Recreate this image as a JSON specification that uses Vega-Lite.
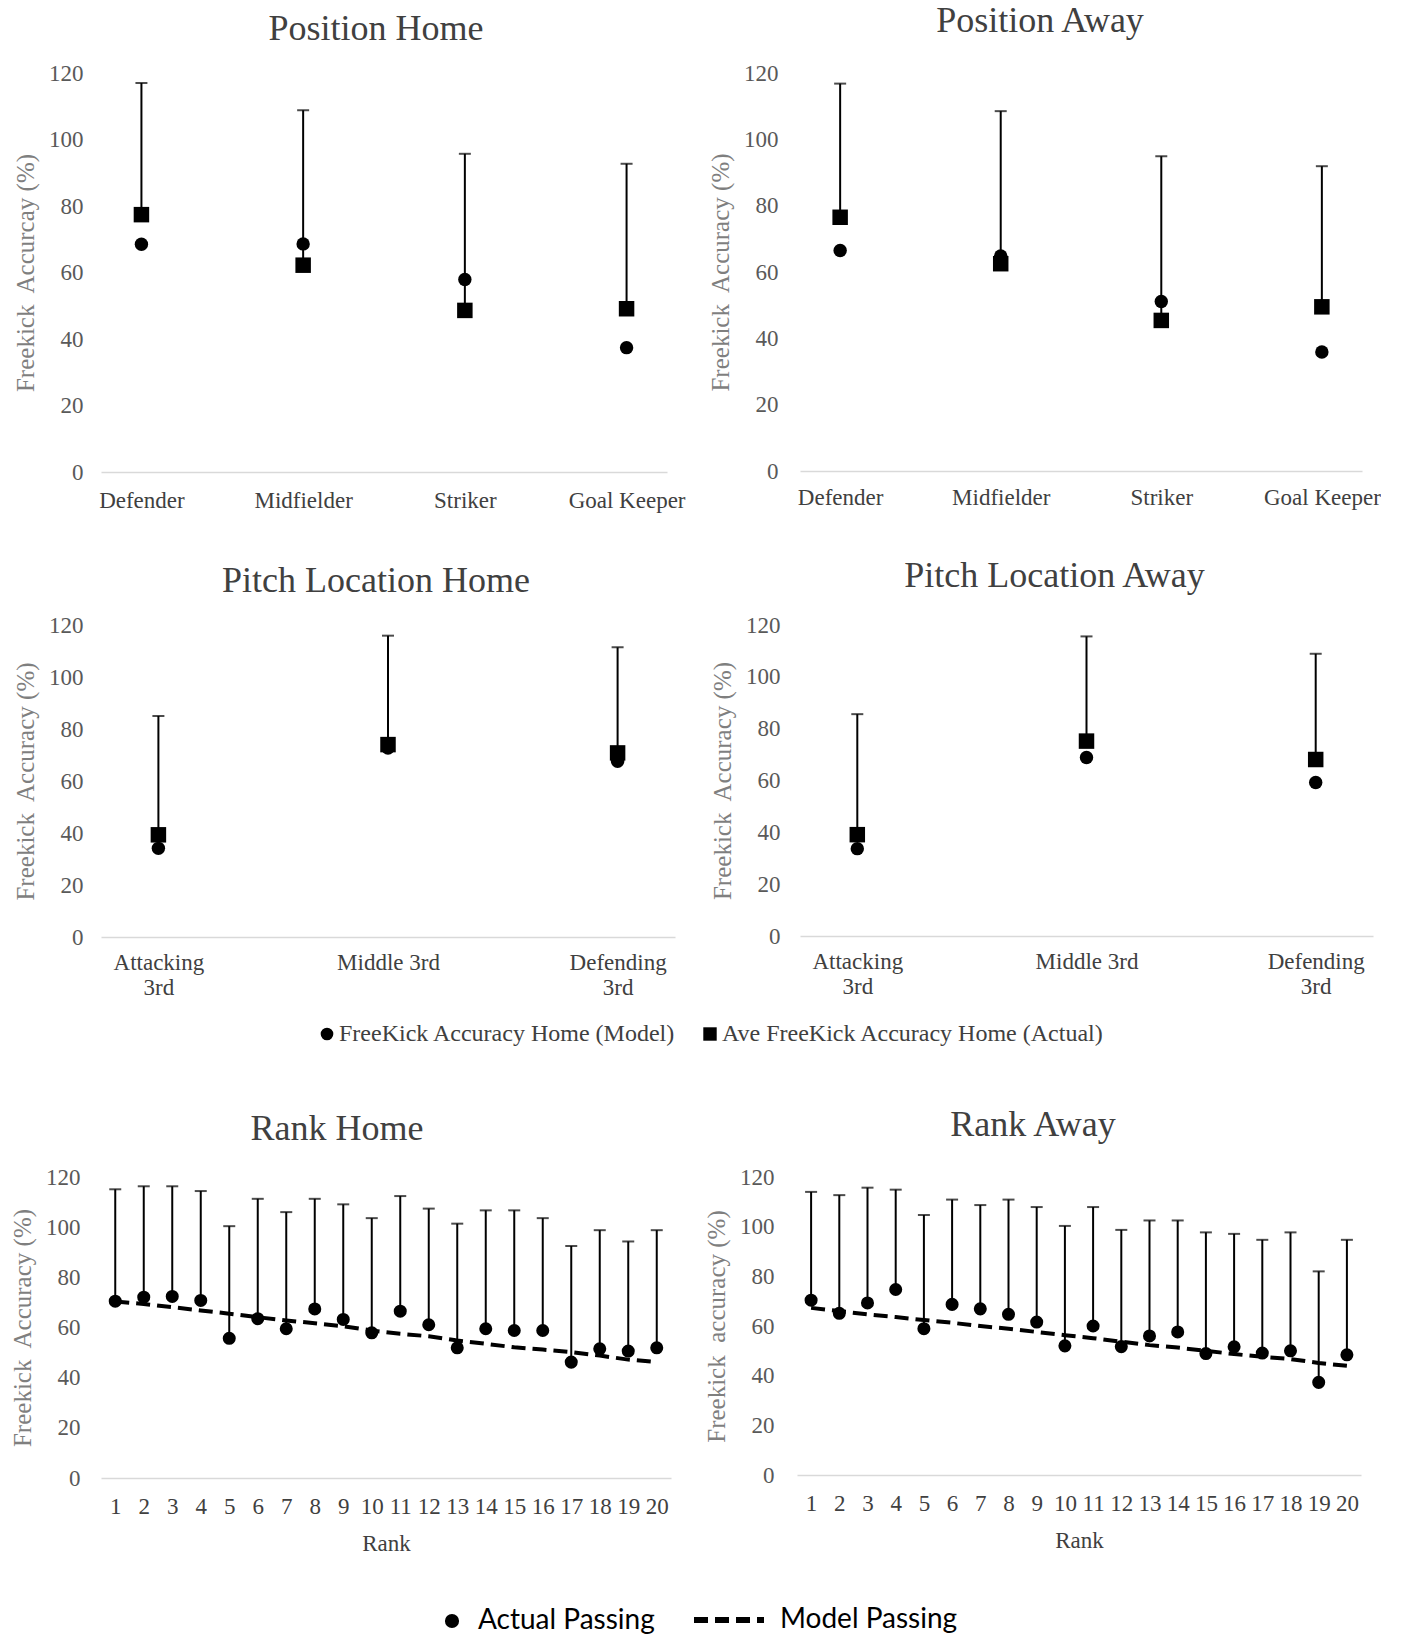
{
  "$schema": "https://vega.github.io/schema/vega-lite/v6.json",
  "background": "white",
  "padding": {"left": 10, "top": 3, "right": 0, "bottom": 0},
  "spacing": 46,
  "resolve": {"scale": {"shape": "independent", "strokeDash": "independent"}, "legend": {"shape": "independent", "strokeDash": "independent"}},
  "config": {
    "view": {"stroke": null},
    "font": "Liberation Serif",
    "axis": {"grid": false, "ticks": false, "tickSize": 0, "labelFont": "Liberation Serif", "titleFont": "Liberation Serif", "titleFontWeight": "normal", "labelFontSize": 23, "titleFontSize": 25},
    "axisY": {"domain": false, "labelColor": "#595959", "titleColor": "#7f7f7f", "titlePadding": 10},
    "axisX": {"domainColor": "#d9d9d9", "domainWidth": 1.5, "labelColor": "#404040", "labelAngle": 0, "titleColor": "#404040", "titleFontSize": 23},
    "title": {"font": "Liberation Serif", "fontSize": 36, "fontWeight": "normal", "color": "#404040", "frame": "group", "anchor": "middle"},
    "legend": {"title": null, "labelFont": "Liberation Serif", "labelFontSize": 24, "labelColor": "#404040", "labelLimit": 0, "symbolFillColor": "black", "symbolStrokeColor": "black", "direction": "horizontal", "orient": "none"}
  },
  "vconcat": [
    {
      "resolve": {"scale": {"shape": "independent", "strokeDash": "independent"}, "legend": {"shape": "independent", "strokeDash": "independent"}},
      "hconcat": [
        {
          "width": 566, "height": 399,
          "title": {"text": "Position Home", "offset": 14, "dx": -8},
          "data": {"values": [
            {"cat": "Defender", "model": 68.5, "actual": 77.4, "top": 117.0},
            {"cat": "Midfielder", "model": 68.6, "actual": 62.2, "top": 108.8},
            {"cat": "Striker", "model": 57.9, "actual": 48.6, "top": 95.7},
            {"cat": "Goal Keeper", "model": 37.4, "actual": 49.1, "top": 92.7}
          ]},
          "encoding": {"x": {"field": "cat", "type": "nominal", "sort": null, "scale": {"type": "point", "padding": 0.25}, "axis": {"title": null, "labelPadding": 17}}},
          "layer": [
            {"mark": {"type": "rule", "color": "black", "strokeWidth": 2}, "encoding": {"y": {"field": "actual", "type": "quantitative", "scale": {"domain": [0, 120]}, "axis": {"title": "Freekick\u00a0 Accurcay (%)", "values": [0, 20, 40, 60, 80, 100, 120], "labelPadding": 18}}, "y2": {"field": "top"}}},
            {"mark": {"type": "tick", "color": "black", "thickness": 2, "size": 12}, "encoding": {"y": {"field": "top", "type": "quantitative"}}},
            {"mark": {"type": "point", "filled": true, "opacity": 1, "color": "black", "size": 240}, "encoding": {"y": {"field": "actual", "type": "quantitative"}, "shape": {"datum": "Ave FreeKick Accuracy Home (Actual)", "type": "nominal", "scale": {"domain": ["FreeKick Accuracy Home (Model)", "Ave FreeKick Accuracy Home (Actual)"], "range": ["circle", "square"]}, "legend": null}}},
            {"mark": {"type": "point", "filled": true, "opacity": 1, "color": "black", "size": 180}, "encoding": {"y": {"field": "model", "type": "quantitative"}, "shape": {"datum": "FreeKick Accuracy Home (Model)", "type": "nominal"}}}
          ]
        },
        {
          "width": 562, "height": 398,
          "title": {"text": "Position Away", "offset": 22, "dx": -41},
          "data": {"values": [
            {"cat": "Defender", "model": 66.5, "actual": 76.5, "top": 116.8},
            {"cat": "Midfielder", "model": 64.8, "actual": 62.5, "top": 108.5},
            {"cat": "Striker", "model": 51.1, "actual": 45.4, "top": 94.9},
            {"cat": "Goal Keeper", "model": 35.9, "actual": 49.5, "top": 91.9}
          ]},
          "encoding": {"x": {"field": "cat", "type": "nominal", "sort": null, "scale": {"type": "point", "padding": 0.25}, "axis": {"title": null, "labelPadding": 15}}},
          "layer": [
            {"mark": {"type": "rule", "color": "black", "strokeWidth": 2}, "encoding": {"y": {"field": "actual", "type": "quantitative", "scale": {"domain": [0, 120]}, "axis": {"title": "Freekick\u00a0 Accuracy (%)", "values": [0, 20, 40, 60, 80, 100, 120], "labelPadding": 22}}, "y2": {"field": "top"}}},
            {"mark": {"type": "tick", "color": "black", "thickness": 2, "size": 12}, "encoding": {"y": {"field": "top", "type": "quantitative"}}},
            {"mark": {"type": "point", "filled": true, "opacity": 1, "color": "black", "size": 240}, "encoding": {"y": {"field": "actual", "type": "quantitative"}, "shape": {"datum": "Ave FreeKick Accuracy Home (Actual)", "type": "nominal", "scale": {"domain": ["FreeKick Accuracy Home (Model)", "Ave FreeKick Accuracy Home (Actual)"], "range": ["circle", "square"]}, "legend": null}}},
            {"mark": {"type": "point", "filled": true, "opacity": 1, "color": "black", "size": 180}, "encoding": {"y": {"field": "model", "type": "quantitative"}, "shape": {"datum": "FreeKick Accuracy Home (Model)", "type": "nominal"}}}
          ]
        }
      ],
      "spacing": 133,
      "bounds": "flush"
    },
    {
      "resolve": {"scale": {"shape": "independent", "strokeDash": "independent"}, "legend": {"shape": "independent", "strokeDash": "independent"}},
      "hconcat": [
        {
          "width": 574, "height": 312,
          "title": {"text": "Pitch Location Home", "offset": 14, "dx": -12},
          "data": {"values": [
            {"cat": "Attacking 3rd", "model": 34.1, "actual": 39.3, "top": 85.0},
            {"cat": "Middle 3rd", "model": 72.7, "actual": 74.0, "top": 115.9},
            {"cat": "Defending 3rd", "model": 67.6, "actual": 70.8, "top": 111.4}
          ]},
          "encoding": {"x": {"field": "cat", "type": "nominal", "sort": null, "scale": {"type": "point", "padding": 0.25}, "axis": {"title": null, "labelPadding": 14, "labelLineHeight": 25, "labelExpr": "datum.value == 'Middle 3rd' ? datum.value : split(datum.value, ' ')"}}},
          "layer": [
            {"mark": {"type": "rule", "color": "black", "strokeWidth": 2}, "encoding": {"y": {"field": "actual", "type": "quantitative", "scale": {"domain": [0, 120]}, "axis": {"title": "Freekick\u00a0 Accuracy (%)", "values": [0, 20, 40, 60, 80, 100, 120], "labelPadding": 18}}, "y2": {"field": "top"}}},
            {"mark": {"type": "tick", "color": "black", "thickness": 2, "size": 12}, "encoding": {"y": {"field": "top", "type": "quantitative"}}},
            {"mark": {"type": "point", "filled": true, "opacity": 1, "color": "black", "size": 240}, "encoding": {"y": {"field": "actual", "type": "quantitative"}, "shape": {"datum": "Ave FreeKick Accuracy Home (Actual)", "type": "nominal", "scale": {"domain": ["FreeKick Accuracy Home (Model)", "Ave FreeKick Accuracy Home (Actual)"], "range": ["circle", "square"]}, "legend": {"values": ["FreeKick Accuracy Home (Model)"], "legendX": 199, "legendY": 382, "padding": 15, "symbolSize": 160, "labelOffset": 0}}}},
            {"mark": {"type": "point", "filled": true, "opacity": 1, "color": "black", "size": 180}, "encoding": {"y": {"field": "model", "type": "quantitative"}, "shape": {"datum": "FreeKick Accuracy Home (Model)", "type": "nominal"}}}
          ]
        },
        {
          "width": 573, "height": 311,
          "title": {"text": "Pitch Location Away", "offset": 19, "dx": -32},
          "data": {"values": [
            {"cat": "Attacking 3rd", "model": 33.7, "actual": 39.1, "top": 85.6},
            {"cat": "Middle 3rd", "model": 68.9, "actual": 75.2, "top": 115.6},
            {"cat": "Defending 3rd", "model": 59.2, "actual": 68.1, "top": 108.9}
          ]},
          "encoding": {"x": {"field": "cat", "type": "nominal", "sort": null, "scale": {"type": "point", "padding": 0.25}, "axis": {"title": null, "labelPadding": 14, "labelLineHeight": 25, "labelExpr": "datum.value == 'Middle 3rd' ? datum.value : split(datum.value, ' ')"}}},
          "layer": [
            {"mark": {"type": "rule", "color": "black", "strokeWidth": 2}, "encoding": {"y": {"field": "actual", "type": "quantitative", "scale": {"domain": [0, 120]}, "axis": {"title": "Freekick\u00a0 Accuracy (%)", "values": [0, 20, 40, 60, 80, 100, 120], "labelPadding": 20}}, "y2": {"field": "top"}}},
            {"mark": {"type": "tick", "color": "black", "thickness": 2, "size": 12}, "encoding": {"y": {"field": "top", "type": "quantitative"}}},
            {"mark": {"type": "point", "filled": true, "opacity": 1, "color": "black", "size": 240}, "encoding": {"y": {"field": "actual", "type": "quantitative"}, "shape": {"datum": "Ave FreeKick Accuracy Home (Actual)", "type": "nominal", "scale": {"domain": ["FreeKick Accuracy Home (Model)", "Ave FreeKick Accuracy Home (Actual)"], "range": ["circle", "square"]}, "legend": {"values": ["Ave FreeKick Accuracy Home (Actual)"], "legendX": -117, "legendY": 382, "padding": 15, "symbolSize": 180, "labelOffset": 0}}}},
            {"mark": {"type": "point", "filled": true, "opacity": 1, "color": "black", "size": 180}, "encoding": {"y": {"field": "model", "type": "quantitative"}, "shape": {"datum": "FreeKick Accuracy Home (Model)", "type": "nominal"}}}
          ]
        }
      ],
      "spacing": 125,
      "bounds": "flush"
    },
    {
      "resolve": {"scale": {"shape": "independent", "strokeDash": "independent"}, "legend": {"shape": "independent", "strokeDash": "independent"}},
      "hconcat": [
        {
          "width": 570, "height": 301,
          "title": {"text": "Rank Home", "offset": 18, "dx": -49},
          "data": {"values": [
            {"rank": 1, "actual": 70.5, "top": 115.1, "model": 70.4},
            {"rank": 2, "actual": 72.1, "top": 116.3, "model": 69.4},
            {"rank": 3, "actual": 72.4, "top": 116.3, "model": 68.1},
            {"rank": 4, "actual": 70.8, "top": 114.4, "model": 66.8},
            {"rank": 5, "actual": 55.7, "top": 100.4, "model": 65.5},
            {"rank": 6, "actual": 63.5, "top": 111.3, "model": 64.1},
            {"rank": 7, "actual": 59.5, "top": 106.0, "model": 62.8},
            {"rank": 8, "actual": 67.4, "top": 111.3, "model": 61.7},
            {"rank": 9, "actual": 63.2, "top": 109.1, "model": 60.5},
            {"rank": 10, "actual": 57.9, "top": 103.6, "model": 58.8},
            {"rank": 11, "actual": 66.5, "top": 112.4, "model": 57.5},
            {"rank": 12, "actual": 61.1, "top": 107.4, "model": 56.5},
            {"rank": 13, "actual": 51.9, "top": 101.4, "model": 54.8},
            {"rank": 14, "actual": 59.5, "top": 106.7, "model": 53.5},
            {"rank": 15, "actual": 58.8, "top": 106.7, "model": 52.1},
            {"rank": 16, "actual": 58.8, "top": 103.6, "model": 51.2},
            {"rank": 17, "actual": 46.2, "top": 92.5, "model": 50.2},
            {"rank": 18, "actual": 51.5, "top": 98.8, "model": 48.8},
            {"rank": 19, "actual": 50.6, "top": 94.3, "model": 47.2},
            {"rank": 20, "actual": 51.9, "top": 98.8, "model": 46.2}
          ]},
          "encoding": {"x": {"field": "rank", "type": "ordinal", "scale": {"type": "point", "padding": 0.5}, "axis": {"title": "Rank", "labelPadding": 17, "titlePadding": 14, "labelOverlap": false}}},
          "layer": [
            {"mark": {"type": "rule", "color": "black", "strokeWidth": 2}, "encoding": {"y": {"field": "actual", "type": "quantitative", "scale": {"domain": [0, 120]}, "axis": {"title": "Freekick\u00a0 Accuracy (%)", "values": [0, 20, 40, 60, 80, 100, 120], "labelPadding": 21}}, "y2": {"field": "top"}}},
            {"mark": {"type": "tick", "color": "black", "thickness": 2, "size": 12}, "encoding": {"y": {"field": "top", "type": "quantitative"}}},
            {"mark": {"type": "line", "color": "black", "strokeWidth": 4}, "encoding": {"y": {"field": "model", "type": "quantitative"}, "strokeDash": {"datum": "Model Passing", "type": "nominal", "scale": {"domain": ["Model Passing"], "range": [[14, 7]]}, "legend": {"legendX": 590, "legendY": 405, "labelFont": "Lato", "labelFontSize": 28, "labelColor": "black", "symbolSize": 4900, "symbolStrokeWidth": 6, "labelOffset": 13, "encode": {"symbols": {"update": {"strokeDash": {"value": [25, 7]}}}}}}}},
            {"mark": {"type": "point", "filled": true, "opacity": 1, "color": "black", "size": 170}, "encoding": {"y": {"field": "actual", "type": "quantitative"}, "shape": {"datum": "Actual Passing", "type": "nominal", "scale": {"domain": ["Actual Passing"], "range": ["circle"]}, "legend": {"legendX": 337, "legendY": 430, "labelFont": "Lato", "labelFontSize": 28, "labelColor": "black", "symbolSize": 200, "labelOffset": 12}}}}
          ]
        },
        {
          "width": 564, "height": 298,
          "title": {"text": "Rank Away", "offset": 22, "dx": -46},
          "data": {"values": [
            {"rank": 1, "actual": 70.4, "top": 114.0, "model": 67.3},
            {"rank": 2, "actual": 65.1, "top": 112.7, "model": 66.0},
            {"rank": 3, "actual": 69.3, "top": 115.7, "model": 64.7},
            {"rank": 4, "actual": 74.7, "top": 114.9, "model": 63.6},
            {"rank": 5, "actual": 58.9, "top": 104.7, "model": 62.4},
            {"rank": 6, "actual": 68.7, "top": 110.9, "model": 61.3},
            {"rank": 7, "actual": 66.9, "top": 108.7, "model": 60.0},
            {"rank": 8, "actual": 64.7, "top": 110.9, "model": 58.9},
            {"rank": 9, "actual": 61.6, "top": 107.9, "model": 57.6},
            {"rank": 10, "actual": 52.0, "top": 100.3, "model": 56.3},
            {"rank": 11, "actual": 60.0, "top": 107.9, "model": 55.1},
            {"rank": 12, "actual": 51.7, "top": 98.7, "model": 53.7},
            {"rank": 13, "actual": 56.0, "top": 102.5, "model": 52.3},
            {"rank": 14, "actual": 57.6, "top": 102.5, "model": 51.3},
            {"rank": 15, "actual": 48.9, "top": 97.7, "model": 50.0},
            {"rank": 16, "actual": 51.6, "top": 97.1, "model": 48.7},
            {"rank": 17, "actual": 49.1, "top": 94.7, "model": 47.6},
            {"rank": 18, "actual": 50.0, "top": 97.7, "model": 46.7},
            {"rank": 19, "actual": 37.3, "top": 82.0, "model": 45.1},
            {"rank": 20, "actual": 48.4, "top": 94.7, "model": 44.0}
          ]},
          "encoding": {"x": {"field": "rank", "type": "ordinal", "scale": {"type": "point", "padding": 0.5}, "axis": {"title": "Rank", "labelPadding": 17, "titlePadding": 14, "labelOverlap": false}}},
          "layer": [
            {"mark": {"type": "rule", "color": "black", "strokeWidth": 2}, "encoding": {"y": {"field": "actual", "type": "quantitative", "scale": {"domain": [0, 120]}, "axis": {"title": "Freekick\u00a0 accuracy (%)", "values": [0, 20, 40, 60, 80, 100, 120], "labelPadding": 23}}, "y2": {"field": "top"}}},
            {"mark": {"type": "tick", "color": "black", "thickness": 2, "size": 12}, "encoding": {"y": {"field": "top", "type": "quantitative"}}},
            {"mark": {"type": "line", "color": "black", "strokeWidth": 4}, "encoding": {"y": {"field": "model", "type": "quantitative"}, "strokeDash": {"datum": "Model Passing", "type": "nominal", "scale": {"domain": ["Model Passing"], "range": [[14, 7]]}, "legend": null}}},
            {"mark": {"type": "point", "filled": true, "opacity": 1, "color": "black", "size": 170}, "encoding": {"y": {"field": "actual", "type": "quantitative"}, "shape": {"datum": "Actual Passing", "type": "nominal", "scale": {"domain": ["Actual Passing"], "range": ["circle"]}, "legend": null}}}
          ]
        }
      ],
      "spacing": 126,
      "bounds": "flush"
    }
  ]
}
